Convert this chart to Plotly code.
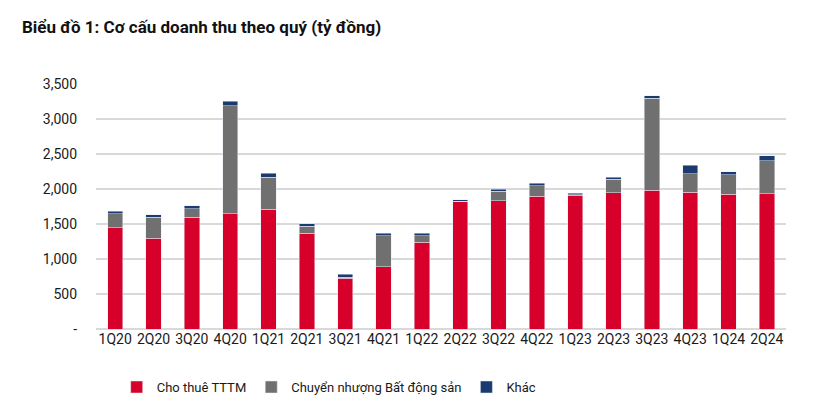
import plotly.graph_objects as go

quarters = ["1Q20", "2Q20", "3Q20", "4Q20", "1Q21", "2Q21", "3Q21", "4Q21", "1Q22",
            "2Q22", "3Q22", "4Q22", "1Q23", "2Q23", "3Q23", "4Q23", "1Q24", "2Q24"]
cho_thue = [1450, 1300, 1600, 1645, 1710, 1365, 725, 890, 1240,
            1815, 1830, 1900, 1910, 1945, 1985, 1955, 1925, 1935]
chuyen_nhuong = [200, 300, 120, 1545, 455, 100, 15, 440, 90,
                 10, 140, 150, 10, 195, 1315, 265, 280, 470]
khac = [35, 30, 40, 65, 60, 40, 40, 35, 35,
        20, 30, 30, 20, 30, 35, 120, 45, 70]

y_tickvals = [0, 500, 1000, 1500, 2000, 2500, 3000, 3500]
y_ticktext = ["-", "500", "1,000", "1,500", "2,000", "2,500", "3,000", "3,500"]

FONT = "Liberation Sans Narrow, Roboto, Liberation Sans, sans-serif"

fig = go.Figure()
fig.add_trace(go.Bar(x=quarters, y=cho_thue, name="Cho thuê TTTM", marker_color="#D7002B"))
fig.add_trace(go.Bar(x=quarters, y=chuyen_nhuong, name="Chuyển nhượng Bất động sản", marker_color="#707070"))
fig.add_trace(go.Bar(x=quarters, y=khac, name="Khác", marker_color="#1B3A6F"))

fig.update_layout(
    barmode="stack",
    bargap=0.6,
    width=811, height=406,
    margin=dict(l=88, r=33, t=76, b=81),
    plot_bgcolor="white", paper_bgcolor="white",
    font=dict(family=FONT, size=13, color="#1a1a1a"),
    title=dict(text="<b>Biểu đồ 1: Cơ cấu doanh thu theo quý (tỷ đồng)</b>",
               x=14/811, xanchor="left", y=1-19/406, yanchor="middle",
               font=dict(family=FONT, size=17, color="#111111")),
    legend=dict(orientation="h", x=0.03, xanchor="left", y=-0.237, yanchor="middle",
                traceorder="normal", font=dict(size=13)),
    showlegend=True,
)
fig.update_xaxes(showgrid=False, ticks="", showline=False, tickfont=dict(size=14))
fig.update_yaxes(range=[0, 3500], tickvals=y_tickvals, ticktext=y_ticktext,
                 showgrid=True, gridcolor="#D9D9D9", gridwidth=1.5,
                 zeroline=True, zerolinecolor="#D9D9D9", zerolinewidth=1.5,
                 ticklabelstandoff=18, tickfont=dict(size=14))

fig.write_html("out.html")
